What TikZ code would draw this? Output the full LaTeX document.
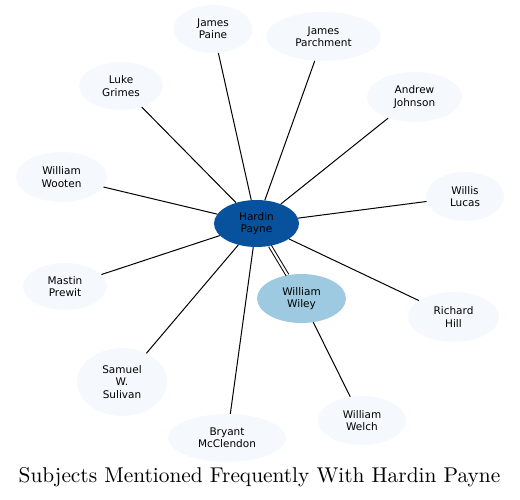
\documentclass[tikz,border=0pt]{standalone}
\usepackage{fontspec}
\newfontfamily\nodefont{DejaVu Sans}
\usetikzlibrary{shapes.geometric}
\definecolor{leaf}{HTML}{F5F9FE}
\definecolor{hub}{HTML}{08519C}
\definecolor{mid}{HTML}{9ECAE1}
\tikzset{
  person/.style={ellipse, fill=leaf, inner sep=0pt, align=center,
    font=\nodefont\fontsize{10.5}{12.3}\selectfont, text=black},
  link/.style={line width=1pt, black},
}
\begin{document}
\begin{tikzpicture}[x=1pt,y=-1pt]
\useasboundingbox (0,0) rectangle (520,499);
\node[person, minimum width=79pt, minimum height=48pt] (paine) at (213,29) {James\\Paine};
\node[person, minimum width=115pt, minimum height=49pt] (parch) at (323.5,36.5) {James\\Parchment};
\node[person, minimum width=95pt, minimum height=50pt] (johnson) at (414.5,97) {Andrew\\Johnson};
\node[person, minimum width=84pt, minimum height=48pt] (grimes) at (121,86) {Luke\\Grimes};
\node[person, minimum width=91pt, minimum height=50pt] (wooten) at (61.5,177) {William\\Wooten};
\node[person, minimum width=78pt, minimum height=49pt] (lucas) at (465,196.5) {Willis\\Lucas};
\node[person, minimum width=84pt, minimum height=47pt] (prewit) at (65,286.5) {Mastin\\Prewit};
\node[person, minimum width=91pt, minimum height=50pt] (hill) at (453.5,317) {Richard\\Hill};
\node[person, minimum width=90pt, minimum height=68pt] (sulivan) at (122,382) {Samuel\\W.\\Sulivan};
\node[person, minimum width=118pt, minimum height=48pt] (mcclendon) at (227,438) {Bryant\\McClendon};
\node[person, minimum width=88pt, minimum height=49pt] (welch) at (362,420.5) {William\\Welch};
\node[person, fill=mid, minimum width=89pt, minimum height=49pt] (wiley) at (301.5,298.5) {William\\Wiley};
\node[person, fill=hub, minimum width=85pt, minimum height=47pt] (hardin) at (256.5,223.5) {Hardin\\Payne};
\foreach \n in {paine,parch,johnson,grimes,wooten,lucas,prewit,hill,sulivan,mcclendon}
  \draw[link] (hardin) -- (\n);
\draw[link] (wiley) -- (welch);
\draw[line width=1pt, double=white, double distance=2pt] (hardin) -- (wiley);
\node[inner sep=0pt] (title) at (259.5,477) {\scalebox{2.136}{\fontsize{10}{12}\selectfont Subjects Mentioned Frequently With Hardin Payne}};
\end{tikzpicture}
\end{document}
